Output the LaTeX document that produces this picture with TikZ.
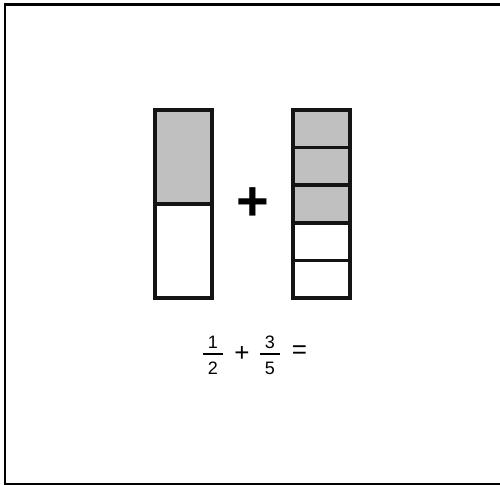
\documentclass[tikz,border=0pt]{standalone}
\usepackage{fontspec}
\setmainfont{Liberation Sans}
\usetikzlibrary{positioning}
\definecolor{cshade}{HTML}{C0C0C0}
\definecolor{cline}{HTML}{141414}
\tikzset{
  every picture/.style={line join=miter},
  frame/.style={draw=black, line width=1.9pt},
  part/.style={draw=cline, line width=2.6pt},
  shaded/.style={part, fill=cshade},
  digit/.style={font=\fontsize{13.5}{15}\selectfont, inner sep=0pt},
  sign/.style={font=\fontsize{19.5}{21}\selectfont, inner sep=0pt},
  fracbar/.style={draw=black, line width=1.5pt},
}
\begin{document}
\begin{tikzpicture}[x=0.75pt, y=-0.75pt]
  \useasboundingbox (0,0) rectangle (500,485);
  \clip (0,0) rectangle (500,485);
  \draw[frame] (5,4.5) rectangle (503,484);
  % one half
  \draw[shaded] (155,110) rectangle (212,204);
  \draw[part] (155,204) rectangle (212,298);
  % fifths
  \foreach \k in {0,1,2} \draw[shaded] (293,{110+37.6*\k}) rectangle (350,{110+37.6*(\k+1)});
  \foreach \k in {3,4} \draw[part] (293,{110+37.6*\k}) rectangle (350,{110+37.6*(\k+1)});
  \node[font=\bfseries\fontsize{42}{44}\selectfont, inner sep=0pt] (plus) at (253,204) {+};
  % the sum
  \coordinate (b1) at (213,354);
  \coordinate (b2) at (270,354);
  \node[digit, anchor=south] (n1) at (213,348.5) {1};
  \node[digit, anchor=north] (d1) at (213,362) {2};
  \draw[fracbar] (b1) ++(-10,0) -- ++(20,0);
  \node[sign] (op) at (242,354) {+};
  \node[digit, anchor=south] (n2) at (270,348.5) {3};
  \node[digit, anchor=north] (d2) at (270,362) {5};
  \draw[fracbar] (b2) ++(-10,0) -- ++(20,0);
  \node[sign] (eq) at (299.5,352) {=};
\end{tikzpicture}
\end{document}
